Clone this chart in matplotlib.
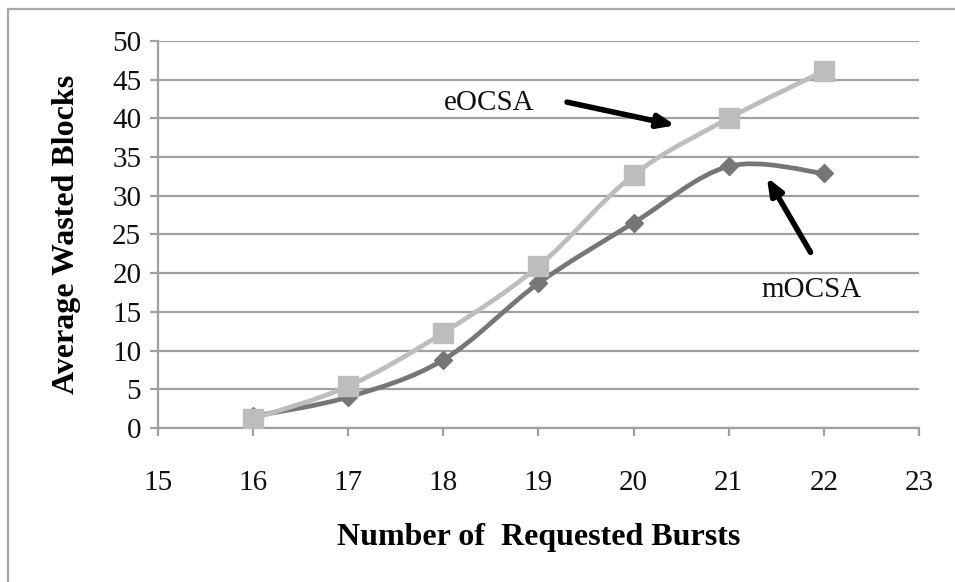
import matplotlib
matplotlib.use('Agg')
import matplotlib.pyplot as plt
from matplotlib.path import Path
from matplotlib.patches import PathPatch
from matplotlib.lines import Line2D

bursts = [16, 17, 18, 19, 20, 21, 22]
eocsa = [1.2, 5.4, 12.3, 20.9, 32.7, 40.0, 46.1]
mocsa = [1.5, 4.0, 8.8, 18.7, 26.5, 33.8, 32.9]

x_ticks = [15, 16, 17, 18, 19, 20, 21, 22, 23]
y_ticks = [0, 5, 10, 15, 20, 25, 30, 35, 40, 45, 50]

plt.rcParams['font.family'] = ['Liberation Serif', 'DejaVu Serif']


def smooth_path(xs, ys):
    # Excel-style smoothed line: Catmull-Rom segments as cubic Bezier curves
    pts = list(zip(xs, ys))
    n = len(pts)
    verts = [pts[0]]
    codes = [Path.MOVETO]
    for i in range(n - 1):
        p0 = pts[i - 1] if i > 0 else pts[i]
        p1 = pts[i]
        p2 = pts[i + 1]
        p3 = pts[i + 2] if i + 2 < n else pts[i + 1]
        c1 = (p1[0] + (p2[0] - p0[0]) / 6, p1[1] + (p2[1] - p0[1]) / 6)
        c2 = (p2[0] - (p3[0] - p1[0]) / 6, p2[1] - (p3[1] - p1[1]) / 6)
        verts += [c1, c2, p2]
        codes += [Path.CURVE4] * 3
    return Path(verts, codes)


fig = plt.figure(figsize=(9.55, 5.82), dpi=100)
ax = fig.add_axes([0.1654, 0.2646, 0.7969, 0.665])

grid_col = '#a0a0a0'
dark = '#767676'
light = '#bdbdbd'

ax.add_patch(PathPatch(smooth_path(bursts, mocsa), facecolor='none',
                       edgecolor=dark, lw=3.4, capstyle='round', zorder=3))
ax.plot(bursts, mocsa, linestyle='none', marker='D', markersize=9,
        color=dark, zorder=4)
ax.add_patch(PathPatch(smooth_path(bursts, eocsa), facecolor='none',
                       edgecolor=light, lw=3.4, capstyle='round', zorder=5))
ax.plot(bursts, eocsa, linestyle='none', marker='s', markersize=14,
        color=light, zorder=6)

ax.set_xlim(15, 23)
ax.set_ylim(0, 50)
ax.set_xticks(x_ticks)
ax.set_yticks(y_ticks)
ax.yaxis.grid(True, color=grid_col, lw=1.6)
ax.set_axisbelow(True)
for s in ['top', 'right']:
    ax.spines[s].set_visible(False)
for s in ['left', 'bottom']:
    ax.spines[s].set_color(grid_col)
    ax.spines[s].set_linewidth(1.6)
ax.tick_params(axis='both', colors=grid_col, width=1.6, length=6,
               labelcolor='#111111', labelsize=21)
ax.tick_params(axis='x', pad=24)
ax.tick_params(axis='y', pad=6)

ax.set_xlabel('Number of  Requested Bursts', fontsize=23, fontweight='bold',
              labelpad=20)
ax.set_ylabel('Average Wasted Blocks', fontsize=23, fontweight='bold',
              labelpad=22)

ax.text(18.48, 42.0, 'eOCSA', fontsize=21, ha='center', va='center',
        color='#111111')
ax.text(21.87, 17.8, 'mOCSA', fontsize=21, ha='center', va='center',
        color='#111111')
arrow = dict(arrowstyle='-|>,head_length=1.0,head_width=0.4', color='black',
             lw=4, shrinkA=0, shrinkB=0)
ax.annotate('', xy=(20.44, 39.1), xytext=(19.30, 42.1), arrowprops=arrow,
            zorder=8)
ax.annotate('', xy=(21.40, 32.4), xytext=(21.86, 22.7), arrowprops=arrow,
            zorder=8)

# chart frame (cut off at right and bottom)
fig.add_artist(Line2D([8 / 955, 8 / 955], [0, 1 - 9 / 582],
                      color='#a8a8a8', lw=1.6))
fig.add_artist(Line2D([8 / 955, 1], [1 - 9 / 582, 1 - 9 / 582],
                      color='#a8a8a8', lw=1.6))

fig.savefig('out.png', dpi=100)
